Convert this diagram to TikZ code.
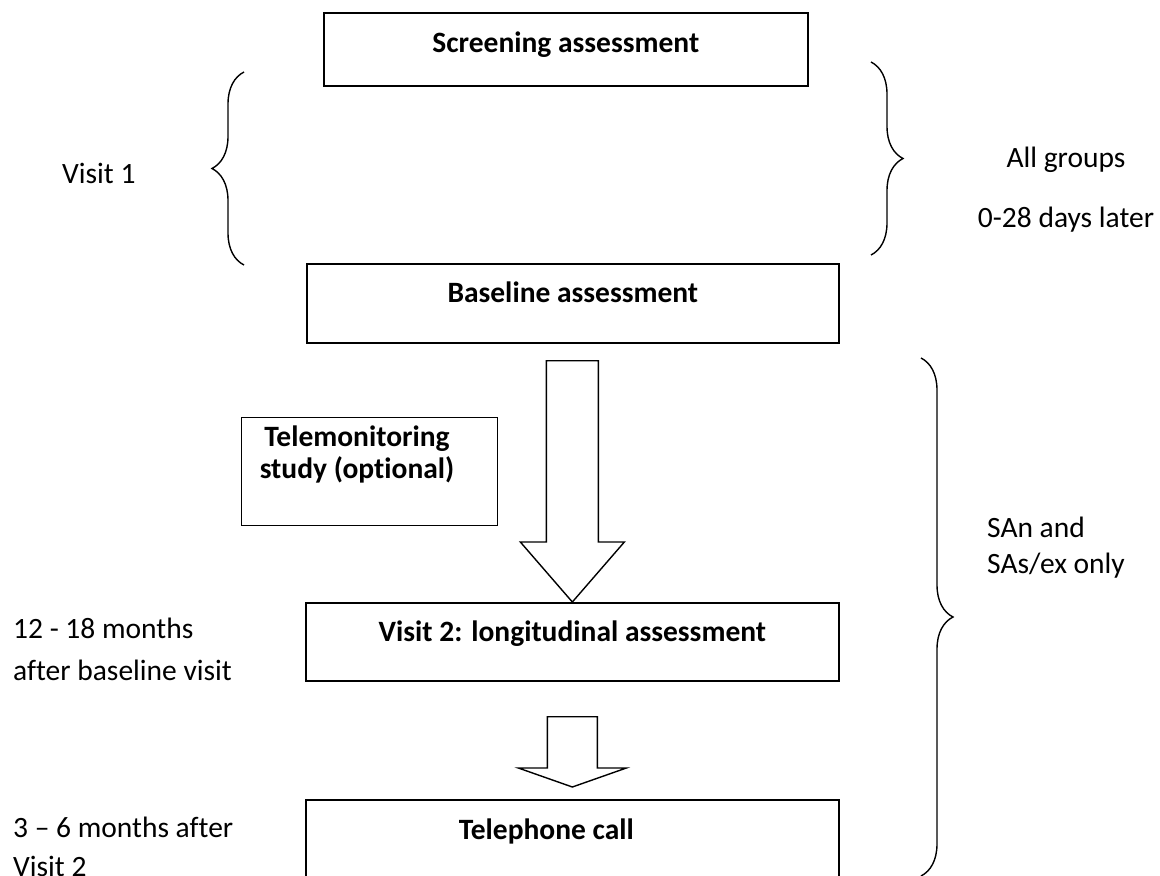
\documentclass[tikz,border=0pt]{standalone}
\usepackage{fontspec}
\setmainfont{Carlito}[Ligatures=NoCommon]
\usetikzlibrary{calc,decorations.pathreplacing}

\newcommand{\diagfont}{\fontsize{29.5}{36}\selectfont}
\newcommand{\blockarrow}[5]{%
  \draw[blockarr] let \p1=(#1), \p2=(#2) in
    (\x2-#3,\y1) -- (\x2+#3,\y1) -- (\x2+#3,\y2+#5) -- (\x2+#4,\y2+#5)
    -- (\x2,\y2) -- (\x2-#4,\y2+#5) -- (\x2-#3,\y2+#5) -- cycle;}

\tikzset{
  box/.style={draw, line width=1.7pt, inner sep=0pt, anchor=north west, font=\diagfont\bfseries},
  lbl/.style={inner sep=0pt, align=left, anchor=west, font=\diagfont},
  curly/.style={decorate, decoration={brace, amplitude=32pt}, line width=1.4pt},
  blockarr/.style={draw, line width=1.4pt, line join=miter}
}

\begin{document}
\begin{tikzpicture}[x=1pt, y=-1pt]
\useasboundingbox (0,0) rectangle (1160,876);

% assessment boxes
\node[box, minimum width=484pt, text height=40pt, text depth=33pt] (scr) at (323,12) {Screening assessment};
\node[box, minimum width=532pt, text height=39pt, text depth=40pt] (base) at (306,263) {Baseline assessment};
\node[box, line width=1.3pt, minimum width=256pt, minimum height=108pt] (tele) at (241,417) {};
\node[inner sep=0pt, align=center, anchor=north, font=\fontsize{29.5}{32}\selectfont\bfseries] (teletxt) at (357,426) {Telemonitoring\\study (optional)};
\node[box, minimum width=533pt, text height=39pt, text depth=39pt] (v2) at (305,602) {Visit 2: longitudinal assessment};
\node[box, minimum width=533pt, text height=40pt, text depth=70pt] (phone) at (305,799) {Telephone call\hspace*{52pt}};

% arrows
\coordinate (a1) at ($(base.south)+(0,17)$);
\blockarrow{a1}{v2.north}{26pt}{52pt}{60pt}
\coordinate (a2) at ($(v2.south)+(0,35)$);
\coordinate (a2tip) at ($(phone.north)+(0,-12)$);
\blockarrow{a2}{a2tip}{25pt}{54pt}{19pt}

% braces
\draw[curly] (244,265) -- (244,72);
\draw[curly] (871,62) -- (871,255);
\draw[curly] (921,358) -- (921,876);

% side texts
\node[lbl] (visit1) at (62,173) {Visit 1};
\node[lbl, align=center, anchor=center, font=\fontsize{29.5}{60}\selectfont] (allgrp) at (1066,190) {All groups\\0-28 days later};
\node[lbl, font=\fontsize{29.5}{36}\selectfont] (sagrp) at (987,548) {SAn and\\SAs/ex only};
\node[lbl, font=\fontsize{29.5}{42}\selectfont] (v2time) at (13,649) {12 - 18 months\\after baseline visit};
\node[lbl, font=\fontsize{29.5}{39}\selectfont] (phonetime) at (13,847) {3 – 6 months after\\Visit 2};
\end{tikzpicture}
\end{document}
